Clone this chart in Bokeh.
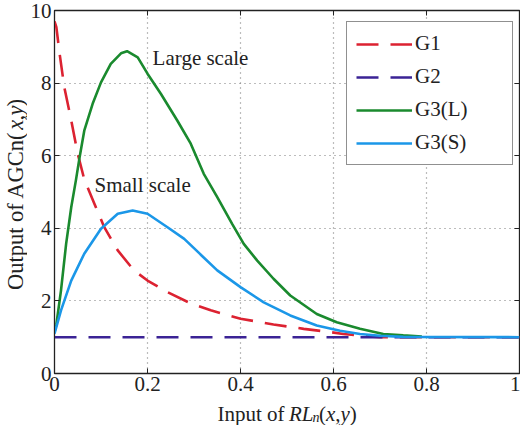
import numpy as np
from bokeh.plotting import figure
from bokeh.layouts import row, column
from bokeh.models import Range1d, LinearAxis, Legend, LegendItem, Label, FixedTicker, NumeralTickFormatter, CustomJSTickFormatter
from bokeh.core.properties import value
from bokeh.embed import file_html
from bokeh.resources import INLINE

# ---- data ----
x_ticks = [0, 0.2, 0.4, 0.6, 0.8, 1.0]
y_ticks = [0, 2, 4, 6, 8, 10]

x_g1 = [0, 0.004, 0.011, 0.021, 0.036, 0.05, 0.064, 0.086, 0.107, 0.136, 0.171, 0.2, 0.243,
        0.293, 0.336, 0.4, 0.471, 0.536, 0.593, 0.621, 0.66, 0.7, 1.0]
y_g1 = [9.7, 9.54, 8.81, 7.89, 6.97, 6.05, 5.35, 4.67, 4.03, 3.39, 2.84, 2.56, 2.24,
        1.93, 1.74, 1.51, 1.35, 1.23, 1.14, 1.09, 1.04, 1.0, 1.0]

x_g2 = [0, 1.0]
y_g2 = [1.0, 1.0]

x_g3l = [0, 0.004, 0.014, 0.025, 0.036, 0.046, 0.054, 0.064, 0.082, 0.1, 0.121, 0.143, 0.156,
         0.179, 0.2, 0.229, 0.264, 0.293, 0.321, 0.35, 0.382, 0.407, 0.436, 0.471, 0.507,
         0.564, 0.607, 0.657, 0.707, 0.75, 0.79]
y_g3l = [1.15, 1.35, 2.29, 3.57, 4.58, 5.32, 5.96, 6.69, 7.43, 8.02, 8.53, 8.82, 8.88,
         8.71, 8.26, 7.7, 6.97, 6.33, 5.5, 4.86, 4.12, 3.57, 3.11, 2.61, 2.15,
         1.64, 1.41, 1.23, 1.09, 1.05, 1.02]

x_g3s = [0, 0.014, 0.036, 0.064, 0.1, 0.136, 0.168, 0.2, 0.243, 0.279, 0.314, 0.35, 0.4,
         0.45, 0.507, 0.564, 0.614, 0.657, 0.7, 0.75, 1.0]
y_g3s = [1.1, 1.74, 2.56, 3.3, 3.99, 4.4, 4.49, 4.4, 4.03, 3.71, 3.28, 2.84, 2.38,
         1.96, 1.6, 1.32, 1.18, 1.09, 1.04, 1.01, 1.0]

series_names = ["G1", "G2", "G3(L)", "G3(S)"]
note_large = ("Large scale", 0.211, 8.68)
note_small = ("Small scale", 0.086, 5.18)

# axis-label pieces (text, style)
xlabel_parts = [("Input of", "normal"), ("RL", "italic"), ("n", "italic-sub"), ("(", "normal"),
                ("x", "italic"), (",", "normal"), ("y", "italic"), (")", "normal")]
ylabel_parts = [("Output of AGCn(", "normal"), ("x", "italic"), (",", "normal"),
                ("y", "italic"), (")", "normal")]

# ---- styles ----
FONT = "Liberation Serif"
TXT = "#222222"
C_RED, C_PUR, C_GRN, C_BLU = "#DC2231", "#3B2395", "#1A8A2E", "#1B97E8"

YW = 27      # width of the y-label strip
XH = 25      # height of the x-label strip
W, H = 520, 425

p = figure(width=W - YW, height=H - XH, output_backend="svg", toolbar_location=None,
           x_range=Range1d(0, 1), y_range=Range1d(0, 10),
           min_border_left=53 - YW, min_border_right=1, min_border_top=10, min_border_bottom=27)
p.background_fill_color = "white"
p.border_fill_color = "white"
p.outline_line_color = "#222222"
p.outline_line_width = 1.3

p.xaxis.ticker = FixedTicker(ticks=x_ticks)
p.yaxis.ticker = FixedTicker(ticks=y_ticks)
p.xaxis.formatter = NumeralTickFormatter(format="0.[0]")
for a in (p.xaxis, p.yaxis):
    a.major_tick_in = 5
    a.major_tick_out = 0
    a.minor_tick_line_color = None
    a.axis_line_color = "#222222"
    a.major_tick_line_color = "#222222"
    a.major_label_text_font = FONT
    a.major_label_text_font_size = "21px"
    a.major_label_text_color = TXT
p.yaxis.major_label_standoff = 3
p.xaxis.major_label_standoff = 3

for loc, tk in (("right", y_ticks), ("above", x_ticks)):
    ax = LinearAxis(ticker=FixedTicker(ticks=tk), major_tick_in=5, major_tick_out=0,
                    minor_tick_line_color=None, axis_line_color=None,
                    major_tick_line_color="#222222",
                    formatter=CustomJSTickFormatter(code="return ''"),
                    major_label_standoff=0)
    p.add_layout(ax, loc)

p.xgrid.ticker = FixedTicker(ticks=x_ticks)
p.ygrid.ticker = FixedTicker(ticks=y_ticks)
for g in (p.xgrid, p.ygrid):
    g.grid_line_color = "#7a7a7a"
    g.grid_line_dash = "1 4"
    g.grid_line_width = 1.2

r1 = p.line(x_g1, y_g1, line_color=C_RED, line_width=2.6, line_dash="22 12")
r2 = p.line(x_g2, y_g2, line_color=C_PUR, line_width=2.6, line_dash="22 12")
r3 = p.line(x_g3l, y_g3l, line_color=C_GRN, line_width=2.6)
r4 = p.line(x_g3s, y_g3s, line_color=C_BLU, line_width=2.6)

legend = Legend(items=[LegendItem(label=n, renderers=[r]) for n, r in zip(series_names, [r1, r2, r3, r4])],
                location=(292, 208), margin=0, padding=9, spacing=8,
                glyph_width=56, glyph_height=22, label_height=22, label_width=88,
                label_standoff=3, label_text_font=FONT, label_text_font_size="21px",
                label_text_color=TXT, border_line_color="#222222", border_line_width=1.3,
                background_fill_color="white", background_fill_alpha=1.0)
p.add_layout(legend)

for t, xx, yy in (note_large, note_small):
    p.add_layout(Label(x=xx, y=yy, text=t, text_font=FONT, text_font_size="21px",
                       text_color=TXT, text_baseline="middle", text_align="left"))


def strip(w, h):
    f = figure(width=w, height=h, output_backend="svg", toolbar_location=None,
               x_range=Range1d(0, w), y_range=Range1d(0, h),
               x_axis_location=None, y_axis_location=None,
               min_border=0, min_border_left=0, min_border_right=0,
               min_border_top=0, min_border_bottom=0)
    f.xgrid.visible = False
    f.ygrid.visible = False
    f.outline_line_color = None
    f.background_fill_color = "white"
    f.border_fill_color = "white"
    return f


def put(f, text, x, y, style, size, angle=0.0, align="left"):
    f.text(x=[x], y=[y], text=[text], text_font=value(FONT), text_font_size=value(size),
           text_font_style=style, text_color=TXT, text_align=align,
           text_baseline="middle", angle=angle)


# x-label strip (spans the full width, below the plot)
fx = strip(W, XH)
x_pos = [217, 288.5, 312, 318.5, 325.5, 334.8, 340.0, 349.3]
for (t, st), xp in zip(xlabel_parts, x_pos):
    if st == "italic-sub":
        put(fx, t, xp, 8, "italic", "14px")
    else:
        put(fx, t, xp, 12, st, "21px")

# y-label strip (rotated text, left of the plot)
fy = strip(YW, H - XH)
A = np.pi / 2
y_pos = [92, 268.7, 278.7, 284.3, 294.3]
for (t, st), yp in zip(ylabel_parts, y_pos):
    put(fy, t, 15, yp, st, "22.5px", angle=A)

layout = column(row(fy, p, spacing=0), fx, spacing=0)
open("out.html", "w").write(file_html(layout, INLINE))
